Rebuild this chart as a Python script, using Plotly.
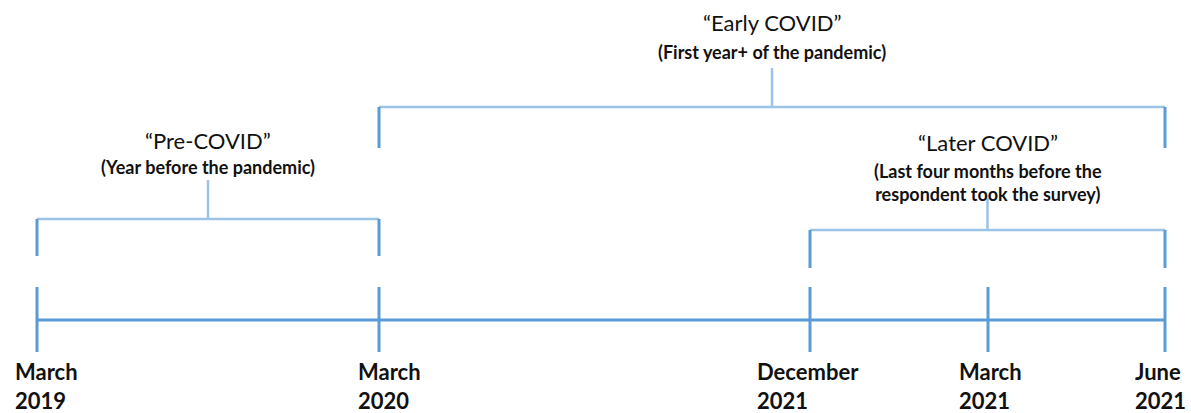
import plotly.graph_objects as go

# ---- data ----
event_month = ["March", "March", "December", "March", "June"]
event_year = ["2019", "2020", "2021", "2021", "2021"]
event_x = [37, 379, 810, 988, 1165]          # position of each event along the timeline

period_titles = ["\u201cPre-COVID\u201d", "\u201cEarly COVID\u201d", "\u201cLater COVID\u201d"]
period_subtitles = ["(Year before the pandemic)",
                    "(First year+ of the pandemic)",
                    "(Last four months before the<br>respondent took the survey)"]
period_start = [0, 1, 2]   # index into events
period_end = [1, 4, 4]

# ---- layout constants (styling / geometry) ----
W, H = 1191, 413
TL_Y = 320
TICK_TOP, TICK_BOT = 287, 352
BRACKET_Y = [219, 107, 230]
LEG_BOT = [256, 148, 268]
STEM_TOP = [180, 68, 198]
TITLE_Y = [140, 22, 142]
SUB_Y = [167, 52, 182]
LABEL_SHIFT = [9, 10, -2, 2, -5]

DARK = "#5B9BD5"
LIGHT = "#9DC3E6"
FONT = "Lato"

fig = go.Figure()

# main timeline
fig.add_trace(go.Scatter(x=[event_x[0], event_x[-1]], y=[TL_Y, TL_Y], mode="lines",
                         line=dict(color=DARK, width=3), hoverinfo="skip"))
# ticks
for ex in event_x:
    fig.add_trace(go.Scatter(x=[ex, ex], y=[TICK_TOP, TICK_BOT], mode="lines",
                             line=dict(color=DARK, width=3), hoverinfo="skip"))

# brackets
for i in range(len(period_titles)):
    x0 = event_x[period_start[i]]
    x1 = event_x[period_end[i]]
    xm = (x0 + x1) / 2
    by = BRACKET_Y[i]
    fig.add_trace(go.Scatter(x=[x0, x1], y=[by, by], mode="lines",
                             line=dict(color=LIGHT, width=2.5), hoverinfo="skip"))
    for xx in (x0, x1):
        fig.add_trace(go.Scatter(x=[xx, xx], y=[by, LEG_BOT[i]], mode="lines",
                                 line=dict(color=DARK, width=3), hoverinfo="skip"))
    fig.add_trace(go.Scatter(x=[xm, xm], y=[STEM_TOP[i], by], mode="lines",
                             line=dict(color=LIGHT, width=2.5), hoverinfo="skip"))
    fig.add_annotation(x=xm, y=TITLE_Y[i], text=period_titles[i], showarrow=False,
                       font=dict(family=FONT, size=22, color="#111111"),
                       xanchor="center", yanchor="middle")
    fig.add_annotation(x=xm, y=SUB_Y[i], text="<b>" + period_subtitles[i] + "</b>",
                       showarrow=False, font=dict(family=FONT, size=18, color="#111111"),
                       xanchor="center", yanchor="middle")

# event labels
for ex, m, yr, sh in zip(event_x, event_month, event_year, LABEL_SHIFT):
    fig.add_annotation(x=ex, y=386, text="<b>" + m + "<br>" + yr + "</b>", showarrow=False,
                       font=dict(family=FONT, size=22, color="#111111"), xshift=sh,
                       xanchor="center", yanchor="middle", align="left")

fig.update_layout(width=W, height=H, margin=dict(l=0, r=0, t=0, b=0),
                  paper_bgcolor="white", plot_bgcolor="white", showlegend=False,
                  xaxis=dict(range=[0, W], visible=False, fixedrange=True),
                  yaxis=dict(range=[H, 0], visible=False, fixedrange=True))

fig.write_html("out.html", config={"displayModeBar": False},
               post_script="document.body.style.margin='0';document.body.style.padding='0';"
                           "document.body.style.overflow='hidden';")
